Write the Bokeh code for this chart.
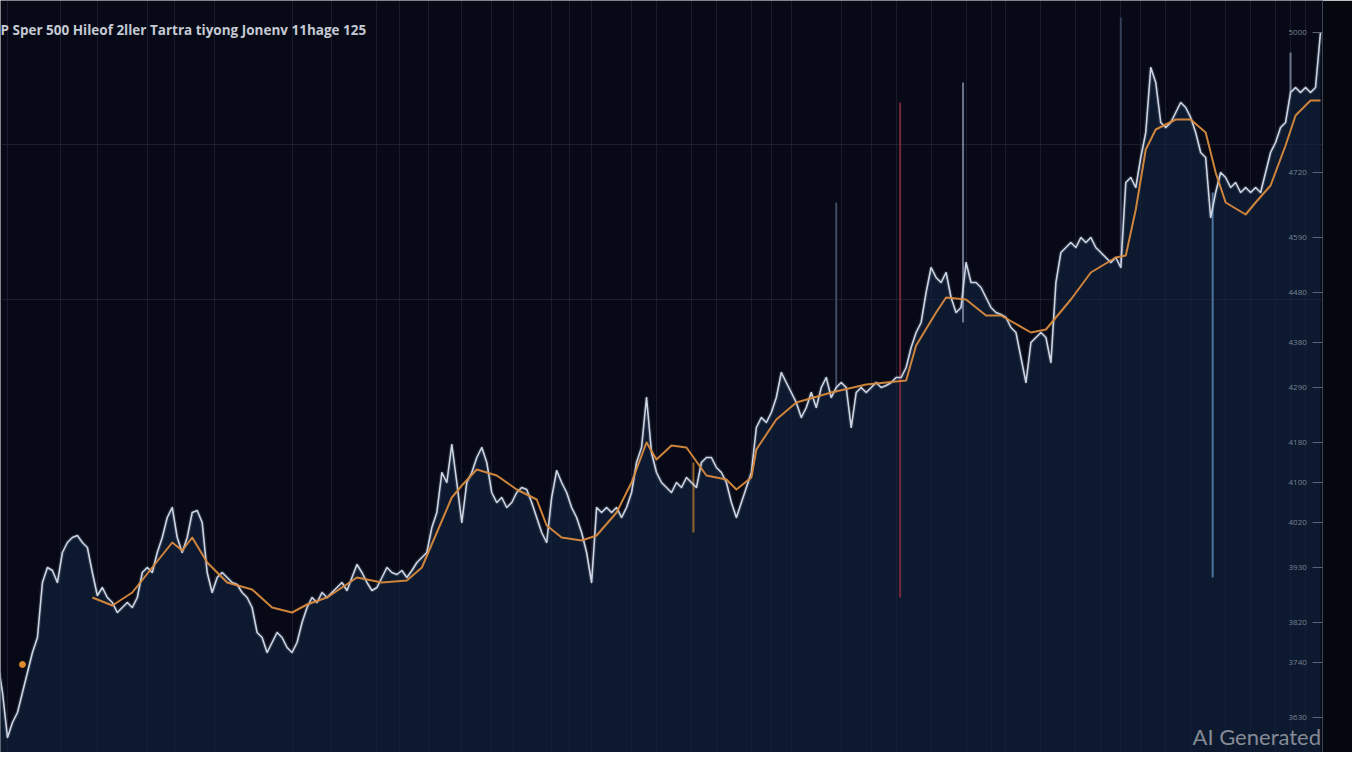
from bokeh.plotting import figure
from bokeh.models import Range1d, FixedTicker, Label
from bokeh.embed import file_html
from bokeh.resources import INLINE

# ---------------- data ----------------
title_text = "P Sper 500 Hileof 2ller Tartra tiyong Jonenv 11hage 125"

close = [
    3720, 3744, 3680, 3590, 3620, 3640, 3680, 3720, 3760, 3790,
    3900, 3930, 3924, 3900, 3960, 3980, 3990, 3994, 3980, 3970,
    3920, 3874, 3890, 3870, 3860, 3840, 3850, 3860, 3850, 3870,
    3920, 3930, 3920, 3960, 3990, 4030, 4050, 3990, 3960, 3990,
    4040, 4044, 4020, 3920, 3880, 3910, 3920, 3910, 3900, 3896,
    3880, 3870, 3850, 3800, 3790, 3760, 3780, 3800, 3790, 3770,
    3760, 3780, 3820, 3850, 3870, 3860, 3880, 3870, 3880, 3890,
    3900, 3884, 3910, 3936, 3920, 3900, 3884, 3890, 3910, 3930,
    3920, 3916, 3924, 3910, 3924, 3940, 3950, 3960, 4010, 4040,
    4120, 4100, 4176, 4100, 4020, 4100, 4120, 4150, 4170, 4140,
    4080, 4060, 4070, 4050, 4060, 4080, 4090, 4086, 4060, 4030,
    4000, 3980, 4070, 4124, 4100, 4080, 4050, 4030, 4000, 3960,
    3900, 4050, 4040, 4050, 4040, 4050, 4030, 4050, 4080, 4140,
    4170, 4270, 4160, 4120, 4100, 4090, 4080, 4100, 4090, 4110,
    4100, 4090, 4140, 4150, 4150, 4130, 4120, 4100, 4060, 4030,
    4060, 4090, 4120, 4210, 4230, 4220, 4240, 4270, 4320, 4300,
    4280, 4260, 4230, 4250, 4280, 4250, 4290, 4310, 4270, 4290,
    4300, 4290, 4210, 4280, 4290, 4280, 4290, 4300, 4290, 4294,
    4300, 4310, 4310, 4330, 4370, 4400, 4420, 4480, 4530, 4510,
    4500, 4520, 4470, 4440, 4450, 4540, 4500, 4500, 4490, 4470,
    4450, 4440, 4436, 4430, 4410, 4400, 4350, 4300, 4380, 4390,
    4400, 4390, 4340, 4500, 4560, 4570, 4580, 4570, 4590, 4580,
    4590, 4570, 4560, 4550, 4540, 4550, 4530, 4700, 4710, 4690,
    4750, 4800, 4930, 4900, 4820, 4810, 4820, 4840, 4860, 4850,
    4830, 4800, 4760, 4750, 4630, 4680, 4720, 4710, 4690, 4700,
    4680, 4690, 4680, 4690, 4680, 4720, 4760, 4780, 4810, 4820,
    4880, 4890, 4880, 4890, 4880, 4890, 5000,
]
days = list(range(len(close)))

ma_days = [20, 24, 28, 32, 36, 38, 40, 43, 47, 52, 56, 60, 63, 67, 70, 73, 78, 83,
           86, 89, 92, 94, 97, 101, 105, 109, 111, 114, 118, 121, 125, 128, 131,
           133, 136, 139, 143, 147, 149, 152, 153, 157, 161, 168, 175, 183, 185,
           189, 191, 195, 199, 202, 208, 211, 216, 220, 225, 227, 229, 231, 233,
           237, 240, 243, 245, 247, 251, 253, 256, 259, 261, 264, 266]
ma_vals = [3870, 3854, 3880, 3930, 3980, 3964, 3990, 3940, 3900, 3886, 3850, 3840,
           3856, 3870, 3890, 3910, 3900, 3904, 3930, 4000, 4070, 4094, 4126, 4114,
           4086, 4066, 4014, 3990, 3984, 3994, 4040, 4100, 4180, 4146, 4174, 4170,
           4114, 4106, 4086, 4110, 4166, 4226, 4260, 4280, 4296, 4304, 4374, 4440,
           4470, 4466, 4434, 4434, 4400, 4406, 4466, 4520, 4550, 4554, 4646, 4766,
           4806, 4826, 4826, 4800, 4720, 4660, 4636, 4660, 4694, 4774, 4834, 4864,
           4864]
ma_dot_day = [6]
ma_dot_val = [3736]

spike_days = [140.4, 169, 181.8, 194.4, 226, 244.4, 260]
spike_hi = [4140, 4660, 4860, 4900, 5030, 4680, 4960]
spike_lo = [4000, 4280, 3870, 4420, 4540, 3910, 4880]
spike_colors = ["#a8702e", "#4a5670", "#8a2c40", "#7c88a2", "#3c4760", "#5a82b4", "#7c88a2"]

grid_days = [3, 13.6, 21, 31, 36.4, 44.4, 60, 68, 77, 81.6, 87.4, 94, 100, 104.4,
             112, 115.6, 120, 128, 133, 140, 145, 152, 156, 160, 170, 176, 181,
             188, 195, 200, 203, 210, 217, 222, 226, 230, 235, 240, 247, 252, 257,
             260, 263]
hline_vals = [4776, 4466]

tick_vals = [5000, 4720, 4590, 4480, 4380, 4290, 4180, 4100, 4020, 3930, 3820, 3740, 3630]

side_labels = ["UI7", "5415"]
side_label_vals = [4420, 3924]

# ---------------- figure ----------------
p = figure(width=1352, height=752, output_backend="svg", toolbar_location=None,
           x_range=Range1d(1.6, 266.4), y_range=Range1d(3560, 5064),
           x_axis_location=None, y_axis_location="right",
           min_border=0, min_border_right=30)
p.background_fill_color = "#070a16"
p.border_fill_color = "#05070e"
p.outline_line_color = None

p.xgrid.ticker = FixedTicker(ticks=grid_days)
p.xgrid.grid_line_color = "#8a9ac0"
p.xgrid.grid_line_alpha = 0.13
p.ygrid.ticker = FixedTicker(ticks=hline_vals)
p.ygrid.grid_line_color = "#33283a"
p.ygrid.grid_line_alpha = 0.6

# area under price
p.varea(x=days, y1=3560, y2=close, fill_color="#13233f", fill_alpha=0.6)

# spikes / wicks
p.segment(x0=spike_days, y0=spike_lo, x1=spike_days, y1=spike_hi,
          line_color=spike_colors, line_width=2, line_alpha=0.85)

# price line with glow
p.line(days, close, line_color="#aab6d0", line_width=4, line_alpha=0.18)
p.line(days, close, line_color="#cdd4e2", line_width=1.6, line_join="round")

# moving average
p.line(ma_days, ma_vals, line_color="#d98a3d", line_width=2, line_join="round", line_alpha=0.95)
p.scatter(ma_dot_day, ma_dot_val, size=6, color="#e08a30")

# right axis
ax = p.yaxis[0]
ax.ticker = FixedTicker(ticks=tick_vals)
ax.minor_tick_line_color = None
ax.major_tick_in = 10
ax.major_tick_out = 0
ax.major_tick_line_color = "#5a6275"
ax.axis_line_color = "#3a4358"
ax.major_label_standoff = -34
ax.major_label_text_color = "#7a8294"
ax.major_label_text_font = "Open Sans"
ax.major_label_text_font_size = "8px"

# texts
p.add_layout(Label(x=0, y=5006, x_units="screen", text=title_text,
                   text_font="Open Sans", text_font_style="bold", text_font_size="13.5px",
                   text_color="#c4c9d3", text_baseline="middle"))
for t, v in zip(side_labels, side_label_vals):
    p.add_layout(Label(x=1328, y=v, x_units="screen", text=t, text_font="Open Sans",
                       text_font_size="8px", text_color="#4a5060", text_baseline="middle"))
p.add_layout(Label(x=1192, y=3592, x_units="screen", text="AI Generated",
                   text_font="Lato", text_font_size="22px", text_color="#858b96",
                   text_baseline="alphabetic"))

open("out.html", "w").write(file_html(p, INLINE))
